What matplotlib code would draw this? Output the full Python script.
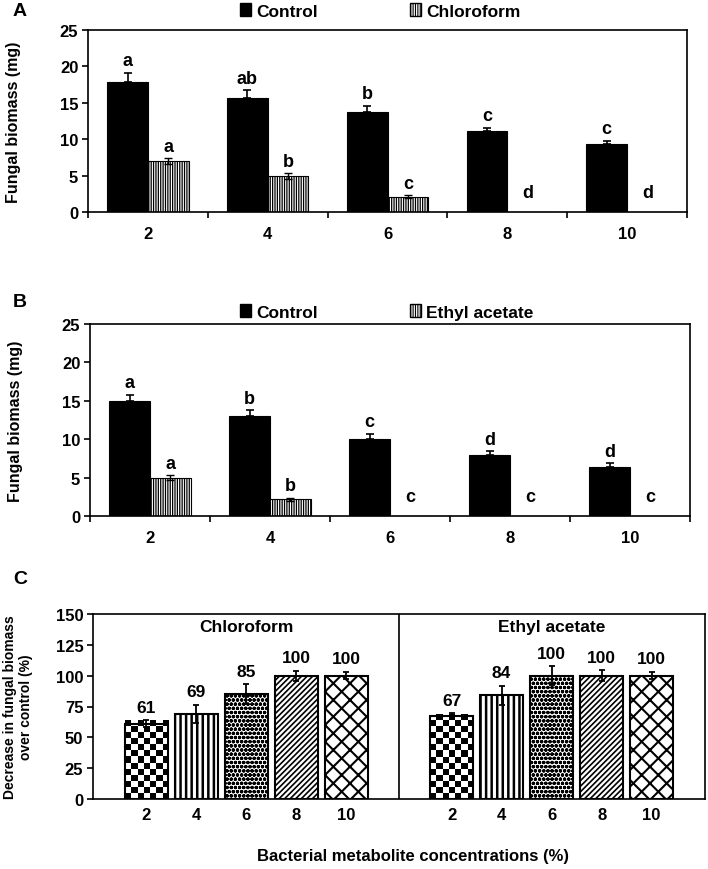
import numpy as np
import matplotlib
matplotlib.use('Agg')
import matplotlib.pyplot as plt
from matplotlib.patches import Patch

plt.rcParams['font.family'] = ['Liberation Sans', 'DejaVu Sans']
plt.rcParams['font.weight'] = 'bold'
plt.rcParams['axes.linewidth'] = 1.2
plt.rcParams['hatch.linewidth'] = 0.8

# concentrations (%)
conc = ['2', '4', '6', '8', '10']

# Panel A: control vs chloroform extract
a_control = [17.9, 15.6, 13.7, 11.1, 9.3]
a_control_err = [1.2, 1.1, 0.9, 0.5, 0.5]
a_chloro = [7.0, 4.9, 2.1, 0, 0]
a_chloro_err = [0.4, 0.4, 0.2, 0, 0]
a_control_let = ['a', 'ab', 'b', 'c', 'c']
a_chloro_let = ['a', 'b', 'c', 'd', 'd']

# Panel B: control vs ethyl acetate extract
b_control = [15.0, 13.0, 10.0, 8.0, 6.4]
b_control_err = [0.8, 0.8, 0.7, 0.45, 0.5]
b_ethyl = [5.0, 2.2, 0, 0, 0]
b_ethyl_err = [0.3, 0.2, 0, 0, 0]
b_control_let = ['a', 'b', 'c', 'd', 'd']
b_ethyl_let = ['a', 'b', 'c', 'c', 'c']

# Panel C: decrease in fungal biomass over control (%)
c_chloro = [61, 69, 85, 100, 100]
c_chloro_err = [3, 7.5, 8, 4, 3]
c_ethyl = [67, 84, 100, 100, 100]
c_ethyl_err = [2.5, 8, 7.5, 4.5, 3]

W, H = 708, 870
fig = plt.figure(figsize=(W / 100, H / 100), dpi=100)


def px_axes(l, r, t, b):
    return fig.add_axes([l / W, 1 - b / H, (r - l) / W, (b - t) / H])


def hatch_lw(artist, lw):
    if hasattr(artist, 'set_hatch_linewidth'):
        artist.set_hatch_linewidth(lw)


def letter(ax, x, top, txt):
    y = top if top > 0 else 1.0
    ax.annotate(txt, (x, y), xytext=(0, 2.5), textcoords='offset points',
                ha='center', va='bottom', fontsize=13, fontweight='bold')


def panel_ab(ax, ctrl, ctrl_err, trt, trt_err, ctrl_let, trt_let, trt_name, leg_xy):
    x = np.arange(1, 6)
    w = 0.34
    ax.bar(x - w / 2, ctrl, w, color='black', edgecolor='black', lw=0.8)
    bt = ax.bar(x + w / 2, trt, w, color='white', edgecolor='black', lw=0.8,
                hatch='|||||||')
    for b in bt:
        hatch_lw(b, 0.9)
    ax.errorbar(x - w / 2, ctrl, yerr=[np.zeros(5), ctrl_err], fmt='none',
                ecolor='black', elinewidth=1.2, capsize=3, capthick=1.2)
    trt = np.array(trt)
    m = trt > 0
    ax.errorbar((x + w / 2)[m], trt[m], yerr=np.array(trt_err)[m], fmt='none',
                ecolor='black', elinewidth=1.0, capsize=3, capthick=1.0)
    for i in range(5):
        letter(ax, x[i] - w / 2, ctrl[i] + ctrl_err[i], ctrl_let[i])
        letter(ax, x[i] + w / 2, trt[i] + trt_err[i], trt_let[i])
    ax.set_xlim(0.5, 5.5)
    ax.set_ylim(0, 25)
    ax.set_yticks(np.arange(0, 26, 5))
    ax.set_xticks(np.arange(0.5, 5.6, 1))
    ax.set_xticklabels([])
    ax.set_xticks(x, minor=True)
    ax.set_xticklabels(conc, minor=True)
    ax.tick_params(axis='x', which='minor', length=0, pad=10, labelsize=12)
    ax.tick_params(axis='x', which='major', direction='out', length=4, width=1.2)
    ax.tick_params(axis='y', direction='out', length=4, width=1.2, labelsize=12, pad=3)
    ax.set_ylabel('Fungal biomass (mg)', fontsize=11.5, fontweight='bold')
    ax.yaxis.set_label_coords(-0.112, 0.5)
    handles = [Patch(facecolor='black', edgecolor='black'),
               Patch(facecolor='white', edgecolor='black', hatch='|||||||')]
    ax.legend(handles, ['Control', trt_name], ncol=2, frameon=False,
              loc='center left', bbox_to_anchor=leg_xy,
              fontsize=12.5, handlelength=0.65, handleheight=0.75,
              handletextpad=0.3, columnspacing=5.3, borderaxespad=0)


axA = px_axes(88, 687, 31, 213)
panel_ab(axA, a_control, a_control_err, a_chloro, a_chloro_err,
         a_control_let, a_chloro_let, 'Chloroform', (0.242, 1.104))
axB = px_axes(90, 690, 325, 517)
panel_ab(axB, b_control, b_control_err, b_ethyl, b_ethyl_err,
         b_control_let, b_ethyl_let, 'Ethyl acetate', (0.238, 1.0625))

# Panel C
axC = px_axes(93, 705, 615, 800)
pos_chl = np.arange(5)
pos_eth = np.arange(5) + 6.1
bw = 0.86
hatches = [None, '|||', 'oooo', '//////', 'xx']
hatch_widths = [1.0, 1.8, 1.2, 1.2, 1.5]


def checker(ax, bar, sq_x, sq_y):
    x0, w, h = bar.get_x(), bar.get_width(), bar.get_height()
    nx = int(round(w / sq_x))
    ny = int(np.ceil(h / sq_y))
    pat = np.indices((ny, nx)).sum(axis=0) % 2
    ax.imshow(pat, cmap='gray', interpolation='nearest', aspect='auto',
              extent=(x0, x0 + w, 0, ny * sq_y), origin='lower',
              clip_path=bar, zorder=1)


for pos, vals, errs in [(pos_chl, c_chloro, c_chloro_err),
                        (pos_eth, c_ethyl, c_ethyl_err)]:
    for i in range(5):
        b = axC.bar(pos[i], vals[i], bw, facecolor='none', edgecolor='black',
                    lw=1.5, hatch=hatches[i], zorder=2)[0]
        hatch_lw(b, hatch_widths[i])
        if hatches[i] is None:
            checker(axC, b, bw / 7, 4.9)
    axC.errorbar(pos, vals, yerr=errs, fmt='none', ecolor='black',
                 elinewidth=1.3, capsize=2.5, capthick=1.3, zorder=3)
    for i in range(5):
        axC.annotate(str(vals[i]), (pos[i], vals[i] + errs[i]), xytext=(0, 4),
                     textcoords='offset points', ha='center', va='bottom',
                     fontsize=12.5, fontweight='bold')

axC.axvline((pos_chl[-1] + pos_eth[0]) / 2, color='black', lw=1.2)
axC.set_xlim(-1.066, 11.166)
axC.set_ylim(0, 150)
axC.set_yticks(np.arange(0, 151, 25))
axC.set_xticks(np.concatenate([pos_chl, pos_eth]))
axC.set_xticklabels(conc + conc)
axC.tick_params(axis='x', length=0, pad=6, labelsize=12)
axC.tick_params(axis='y', direction='out', length=4, width=1.2, labelsize=12, pad=3)
axC.text(2, 146, 'Chloroform', ha='center', va='top', fontsize=12.5, fontweight='bold')
axC.text(8.1, 146, 'Ethyl acetate', ha='center', va='top', fontsize=12.5, fontweight='bold')
axC.set_ylabel('Decrease in fungal biomass\nover control (%)', fontsize=10,
               fontweight='bold', linespacing=1.15)
axC.yaxis.set_label_coords(-0.098, 0.5)

fig.text(413 / W, 1 - 857 / H, 'Bacterial metabolite concentrations (%)',
         ha='center', va='center', fontsize=12, fontweight='bold')

for lab, ypx in [('A', 12), ('B', 303), ('C', 580)]:
    fig.text(13 / W, 1 - ypx / H, lab, ha='left', va='center',
             fontsize=14, fontweight='bold')

fig.savefig('out.png', dpi=100)
